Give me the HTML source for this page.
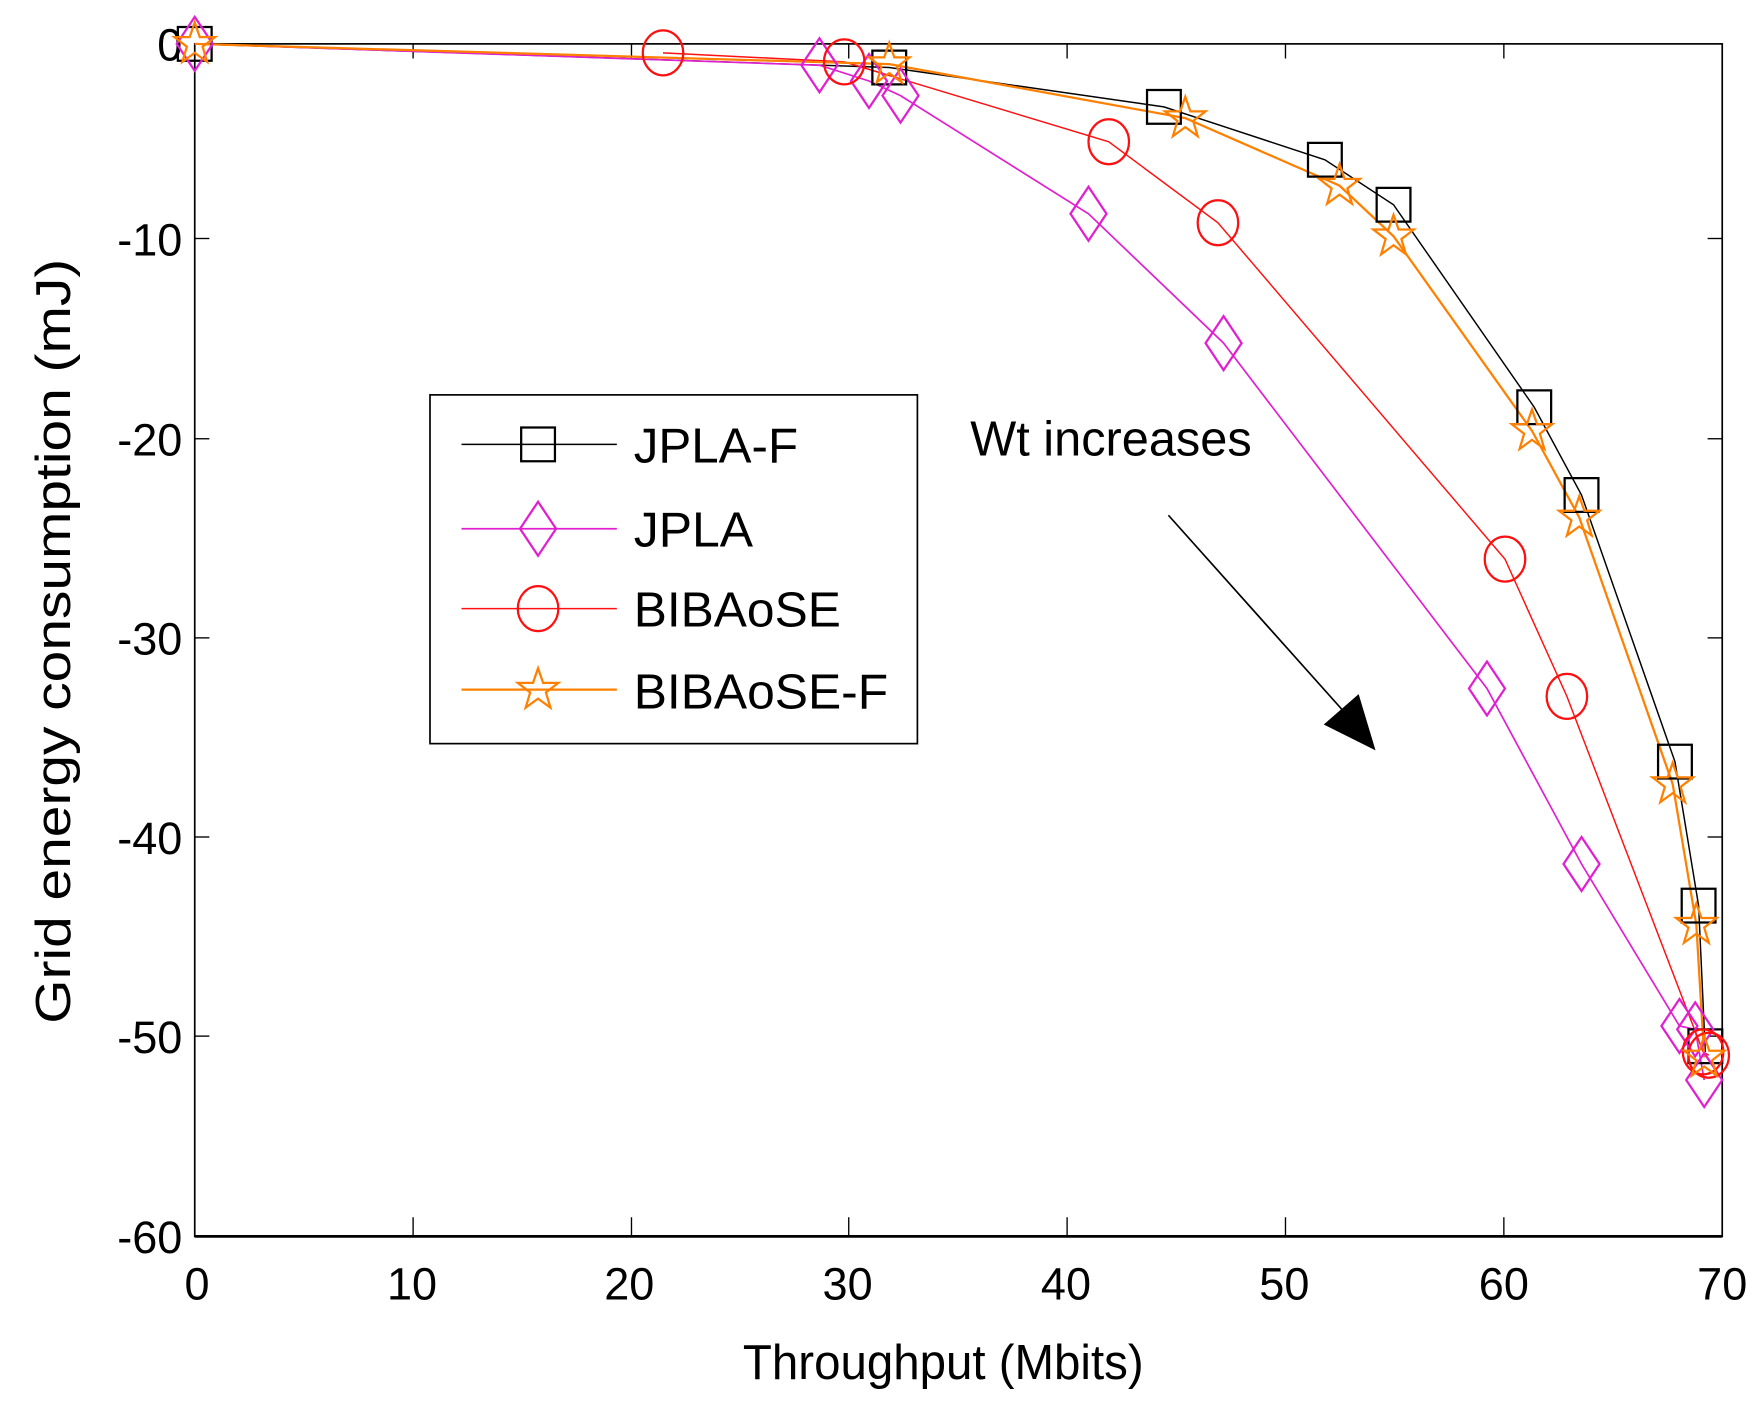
<!DOCTYPE html>
<html><head><meta charset="utf-8"><style>html,body{margin:0;padding:0;background:#fff}svg{display:block}</style></head>
<body>
<svg width="1756" height="1404" viewBox="0 0 1560 1248" preserveAspectRatio="none" xmlns="http://www.w3.org/2000/svg" font-family="Liberation Sans, sans-serif">
<defs>
<g id="sq"><rect x="-15" y="-15" width="30" height="30" fill="none" stroke="#000" stroke-width="2"/></g>
<g id="di"><polygon points="0,-24 16,0 0,24 -16,0" fill="none" stroke="#e020d0" stroke-width="2"/></g>
<g id="ci"><ellipse cx="0" cy="0" rx="18" ry="20" fill="none" stroke="#ff1010" stroke-width="2"/></g>
<g id="st"><polygon points="0,-19 4.5,-6 18,-6 7,2.5 11,16 0,8 -11,16 -7,2.5 -18,-6 -4.5,-6" fill="none" stroke="#ff8000" stroke-width="2"/></g>
</defs>
<rect x="0" y="0" width="1560" height="1248" fill="#fff"/>
<!-- axes -->
<rect x="173" y="39" width="1357" height="1060" fill="none" stroke="#000" stroke-width="1.5"/>
<line x1="173" y1="1099" x2="1530" y2="1099" stroke="#000" stroke-width="2.5"/>
<g stroke="#000" stroke-width="1.2">
<line x1="367" y1="1099" x2="367" y2="1082"/><line x1="561" y1="1099" x2="561" y2="1082"/><line x1="754" y1="1099" x2="754" y2="1082"/><line x1="948" y1="1099" x2="948" y2="1082"/><line x1="1142" y1="1099" x2="1142" y2="1082"/><line x1="1336" y1="1099" x2="1336" y2="1082"/>
<line x1="367" y1="39" x2="367" y2="52"/><line x1="561" y1="39" x2="561" y2="52"/><line x1="754" y1="39" x2="754" y2="52"/><line x1="948" y1="39" x2="948" y2="52"/><line x1="1142" y1="39" x2="1142" y2="52"/><line x1="1336" y1="39" x2="1336" y2="52"/>
<line x1="173" y1="212" x2="186" y2="212"/><line x1="173" y1="390" x2="186" y2="390"/><line x1="173" y1="567" x2="186" y2="567"/><line x1="173" y1="744" x2="186" y2="744"/><line x1="173" y1="921" x2="186" y2="921"/>
<line x1="1530" y1="212" x2="1517" y2="212"/><line x1="1530" y1="390" x2="1517" y2="390"/><line x1="1530" y1="567" x2="1517" y2="567"/><line x1="1530" y1="744" x2="1517" y2="744"/><line x1="1530" y1="921" x2="1517" y2="921"/>
</g>
<g font-size="40" fill="#000" text-anchor="end">
<text x="162" y="54">0</text><text x="162" y="227">-10</text><text x="162" y="405">-20</text><text x="162" y="582">-30</text><text x="162" y="759">-40</text><text x="162" y="936">-50</text><text x="162" y="1114">-60</text>
</g>
<g font-size="40" fill="#000" text-anchor="middle">
<text x="175" y="1155">0</text><text x="366" y="1155">10</text><text x="559" y="1155">20</text><text x="753" y="1155">30</text><text x="947" y="1155">40</text><text x="1141" y="1155">50</text><text x="1336" y="1155">60</text><text x="1530" y="1155">70</text>
</g>
<text x="838" y="1226" font-size="44" text-anchor="middle" textLength="356" lengthAdjust="spacingAndGlyphs">Throughput (Mbits)</text>
<text transform="translate(62,570) rotate(-90)" font-size="44" text-anchor="middle" textLength="680" lengthAdjust="spacingAndGlyphs">Grid energy consumption (mJ)</text>
<!-- series -->
<polyline fill="none" stroke="#000" stroke-width="1.3" points="173,39 790,60 1034,95 1177,142 1238,182 1363,362 1405,440 1488,677 1509,805 1515,935"/>
<polyline fill="none" stroke="#e020d0" stroke-width="1.5" points="173,39 728,58 772,72 800,85 967,190 1087,305 1321,612 1405,768 1492,912 1506,915 1514,960"/>
<polyline fill="none" stroke="#ff1010" stroke-width="1.3" points="589,47 750,55 985,126 1082,198 1337,497 1392,619 1513,935 1518,938"/>
<polyline fill="none" stroke="#ff8000" stroke-width="2" points="173,39 790,57 1053,105 1190,165 1238,210 1361,383 1403,460 1486,697 1507,822 1514,940"/>
<g>
<use href="#sq" x="173" y="39"/><use href="#sq" x="790" y="60"/><use href="#sq" x="1034" y="95"/><use href="#sq" x="1177" y="142"/><use href="#sq" x="1238" y="182"/><use href="#sq" x="1363" y="362"/><use href="#sq" x="1405" y="440"/><use href="#sq" x="1488" y="677"/><use href="#sq" x="1509" y="805"/><use href="#sq" x="1515" y="930"/>
<use href="#di" x="173" y="39"/><use href="#di" x="728" y="58"/><use href="#di" x="772" y="72"/><use href="#di" x="800" y="85"/><use href="#di" x="967" y="190"/><use href="#di" x="1087" y="305"/><use href="#di" x="1321" y="612"/><use href="#di" x="1405" y="768"/><use href="#di" x="1492" y="912"/><use href="#di" x="1506" y="915"/><use href="#di" x="1514" y="960"/>
<use href="#ci" x="589" y="47"/><use href="#ci" x="750" y="55"/><use href="#ci" x="985" y="126"/><use href="#ci" x="1082" y="198"/><use href="#ci" x="1337" y="497"/><use href="#ci" x="1392" y="619"/><use href="#ci" x="1513" y="935"/><use href="#ci" x="1518" y="938"/>
<use href="#st" x="173" y="39"/><use href="#st" x="790" y="57"/><use href="#st" x="1053" y="105"/><use href="#st" x="1190" y="165"/><use href="#st" x="1238" y="210"/><use href="#st" x="1361" y="383"/><use href="#st" x="1403" y="460"/><use href="#st" x="1486" y="697"/><use href="#st" x="1507" y="822"/><use href="#st" x="1514" y="940"/>
</g>
<!-- legend -->
<rect x="382" y="351" width="433" height="310" fill="#fff" stroke="#000" stroke-width="1.5"/>
<line x1="410" y1="395" x2="548" y2="395" stroke="#000" stroke-width="1.3"/><use href="#sq" x="478" y="395"/>
<line x1="410" y1="470" x2="548" y2="470" stroke="#e020d0" stroke-width="1.5"/><use href="#di" x="478" y="470"/>
<line x1="410" y1="541" x2="548" y2="541" stroke="#ff1010" stroke-width="1.3"/><use href="#ci" x="478" y="541"/>
<line x1="410" y1="613" x2="548" y2="613" stroke="#ff8000" stroke-width="2"/><use href="#st" x="478" y="613"/>
<g font-size="44" fill="#000">
<text x="563" y="411" textLength="146" lengthAdjust="spacingAndGlyphs">JPLA-F</text>
<text x="563" y="486" textLength="106" lengthAdjust="spacingAndGlyphs">JPLA</text>
<text x="563" y="557" textLength="184" lengthAdjust="spacingAndGlyphs">BIBAoSE</text>
<text x="563" y="630" textLength="226" lengthAdjust="spacingAndGlyphs">BIBAoSE-F</text>
<text x="862" y="405" textLength="250" lengthAdjust="spacingAndGlyphs">Wt increases</text>
</g>
<line x1="1038" y1="458" x2="1205" y2="645" stroke="#000" stroke-width="1.5"/>
<polygon points="1222,667 1176,644 1207,617" fill="#000"/>
</svg>
</body></html>
